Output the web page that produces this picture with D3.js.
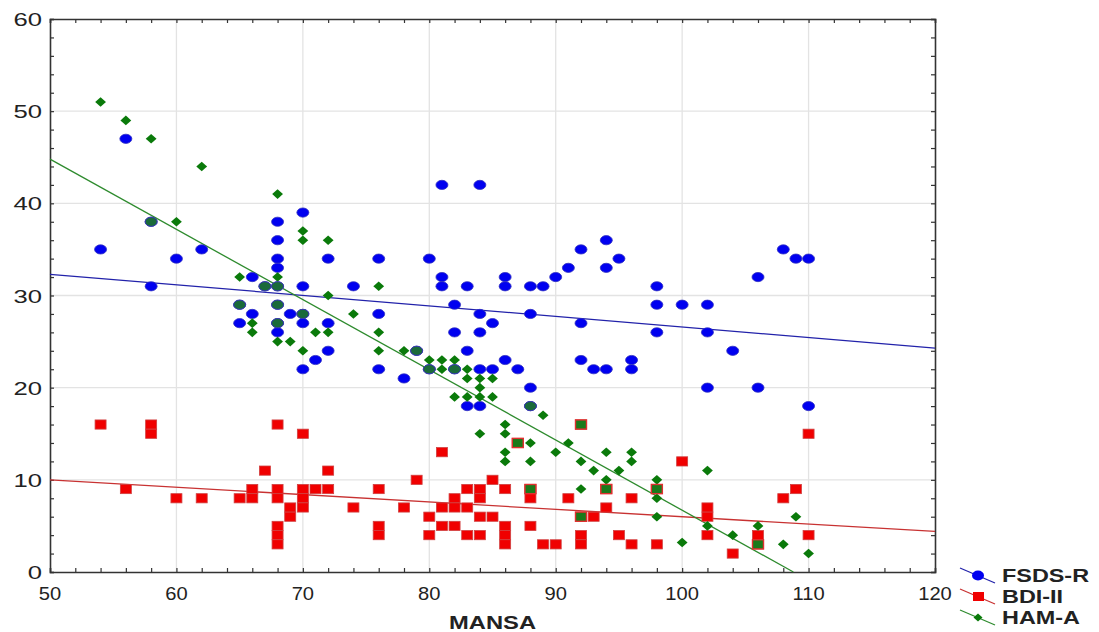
<html>
<head>
<script src="https://d3js.org/d3.v7.min.js"></script>
</head>
<body style="margin:0;background:#fff">
<svg id="chart" width="1099" height="632"></svg>
<style>
  text { font-family: "Liberation Sans", Arial, sans-serif; }
</style>
<script>
// data: [MANSA, score]
const fsds = [[56,47],[58,38],[70,39],[68,38],[54,35],[62,35],[68,36],[60,34],[68,34],[72,34],[68,33],[66,32],[58,31],[67,31],[68,31],[70,31],
  [65,29],[68,29],[66,28],[69,28],[70,28],[65,27],[68,27],[70,27],[72,27],[68,26],
  [81,42],[84,42],[76,34],[80,34],[74,31],[81,32],[81,31],[83,31],[86,32],[86,31],[88,31],[89,31],[90,32],[91,33],[92,35],[94,36],[94,33],[95,34],
  [82,29],[84,28],[88,28],[85,27],[92,27],[76,28],[82,26],[84,26],[72,24],[79,24],[83,24],[71,23],[86,23],[92,23],[70,22],[76,22],[80,22],[82,22],
  [84,22],[85,22],[87,22],[93,22],[78,21],[88,20],[83,18],[84,18],[88,18],
  [108,35],[109,34],[110,34],[106,32],[98,31],[98,29],[100,29],[102,29],[98,26],[102,26],[104,24],[96,23],[94,22],[96,22],[102,20],[106,20],[110,18]];

const bdi = [[54,16],[58,16],[58,15],[68,16],[70,15],[56,9],[67,11],[72,11],[60,8],[62,8],[65,8],[66,9],[66,8],[68,9],[68,8],[69,7],[69,6],
  [68,5],[68,4],[68,3],[70,9],[70,8],[70,7],[71,9],[72,9],
  [81,13],[79,10],[85,10],[76,9],[83,9],[84,9],[86,9],[88,9],[74,7],[78,7],[82,8],[84,8],[88,8],[91,8],[81,7],[82,7],[83,7],[80,6],[84,6],[85,6],
  [92,6],[93,6],[76,5],[76,4],[81,5],[82,5],[86,5],[88,5],[80,4],[83,4],[84,4],[86,4],[86,3],[89,3],[90,3],[92,4],[92,3],
  [92,16],[87,14],[110,15],[100,12],[94,9],[98,9],[109,9],[96,8],[108,8],[94,7],[102,7],[102,6],[95,4],[102,4],[106,4],[110,4],[96,3],[98,3],[106,3],[104,2]];

const ham = [[54,51],[56,49],[58,47],[62,44],[68,41],[58,38],[60,38],[70,37],[70,36],[72,36],[65,32],[68,32],[67,31],[68,31],[72,30],[65,29],
  [68,29],[70,28],[66,27],[68,27],[66,26],[71,26],[72,26],[68,25],[69,25],
  [76,31],[74,28],[76,26],[70,24],[76,24],[78,24],[79,24],[80,23],[81,23],[82,23],[80,22],[81,22],[82,22],[83,22],[83,21],[84,21],[85,21],
  [84,20],[82,19],[83,19],[84,19],[85,19],[88,18],[89,17],
  [86,16],[92,16],[84,15],[86,15],[87,14],[88,14],[91,14],[86,13],[90,13],[86,12],[88,12],[92,12],[93,11],[88,9],[92,9],[92,6],
  [94,13],[96,13],[96,12],[95,11],[102,11],[94,10],[98,10],[94,9],[98,9],[98,8],[98,6],[109,6],[102,5],[106,5],[104,4],[100,3.2],[106,3],[108,3],[110,2]];

// fitted lines, end points
const fitFsds = [[50,32.3],[120,24.3]];
const fitBdi = [[50,10.0],[120,4.4]];
const fitHam = [[50,44.8],[108.8,0]];

const xTicks = [50,60,70,80,90,100,110,120];
const yTicks = [0,10,20,30,40,50,60];
const legendNames = ['FSDS-R','BDI-II','HAM-A'];

const svg = d3.select('#chart');
const margin = {top:19, right:164, bottom:60, left:50};
const W = 1099 - margin.left - margin.right;
const H = 632 - margin.top - margin.bottom;

const x = d3.scaleLinear().domain([50,120]).range([0,W]);
const y = d3.scaleLinear().domain([0,60]).range([H,0]);

const g = svg.append('g').attr('transform',`translate(${margin.left},${margin.top})`);

// grid
g.selectAll('line.gx').data(xTicks.slice(1,-1)).join('line').attr('class','gx')
  .attr('x1',d=>x(d)).attr('x2',d=>x(d)).attr('y1',0).attr('y2',H)
  .attr('stroke','#e3e3e3').attr('stroke-width',1.3);
g.selectAll('line.gy').data(yTicks.slice(1,-1)).join('line').attr('class','gy')
  .attr('y1',d=>y(d)).attr('y2',d=>y(d)).attr('x1',0).attr('x2',W)
  .attr('stroke','#e3e3e3').attr('stroke-width',1.3);

// axes with inward ticks
const minorX = d3.range(50,121,2), minorY = d3.range(0,61,2);
const axB = g.append('g').attr('transform',`translate(0,${H})`)
  .call(d3.axisBottom(x).tickValues(minorX).tickSize(-4).tickFormat(''));
const axT = g.append('g').call(d3.axisTop(x).tickValues(minorX).tickSize(-4).tickFormat(''));
const axL = g.append('g').call(d3.axisLeft(y).tickValues(minorY).tickSize(-4).tickFormat(''));
const axR = g.append('g').attr('transform',`translate(${W},0)`)
  .call(d3.axisRight(y).tickValues(minorY).tickSize(-4).tickFormat(''));
[axB,axT,axL,axR].forEach(a=>{
  a.select('path.domain').attr('stroke','#333').attr('stroke-width',1.6);
  a.selectAll('line').attr('stroke','#333').attr('stroke-width',1.2);
});

// tick labels (the source picture is stretched sideways, so the text is too)
g.selectAll('text.xl').data(xTicks).join('text').attr('class','xl')
  .attr('transform',d=>`translate(${x(d)},${H+28}) scale(1.12,1)`).attr('text-anchor','middle')
  .attr('font-size','18px').attr('fill','#222').text(d=>d);
g.selectAll('text.yl').data(yTicks).join('text').attr('class','yl')
  .attr('transform',d=>`translate(-8,${y(d)+7}) scale(1.35,1)`).attr('text-anchor','end')
  .attr('font-size','19px').attr('fill','#222').text(d=>d);

svg.append('text').attr('transform',`translate(${margin.left+x(85)},629) scale(1.32,1)`)
  .attr('text-anchor','middle').attr('font-size','18px').attr('font-weight','bold')
  .attr('fill','#222').text('MANSA');

// fit lines
const line = d3.line().x(d=>x(d[0])).y(d=>y(d[1]));
g.append('path').datum(fitFsds).attr('d',line).attr('stroke','#2222aa').attr('stroke-width',1.3).attr('fill','none');
g.append('path').datum(fitBdi).attr('d',line).attr('stroke','#c83232').attr('stroke-width',1.3).attr('fill','none');
g.append('path').datum(fitHam).attr('d',line).attr('stroke','#2e8b2e').attr('stroke-width',1.3).attr('fill','none');

// markers
const key = d=>d[0]+'_'+d[1];
const blueSet = new Set(fsds.map(key)), redSet = new Set(bdi.map(key));

g.selectAll('ellipse.fsds').data(fsds).join('ellipse').attr('class','fsds')
  .attr('cx',d=>x(d[0])).attr('cy',d=>y(d[1])).attr('rx',6).attr('ry',4.6)
  .attr('fill','#0000f0').attr('stroke','#3030c0').attr('stroke-width',0.8);

g.selectAll('rect.bdi').data(bdi).join('rect').attr('class','bdi')
  .attr('x',d=>x(d[0])-5.5).attr('y',d=>y(d[1])-4.6).attr('width',11).attr('height',9.2)
  .attr('fill','#f00000').attr('stroke','#d04040').attr('stroke-width',0.8);

const hamFree = ham.filter(d=>!blueSet.has(key(d)) && !redSet.has(key(d)));
const hamOnBlue = ham.filter(d=>blueSet.has(key(d)));
const hamOnRed = ham.filter(d=>redSet.has(key(d)) && !blueSet.has(key(d)));

g.selectAll('path.ham').data(hamFree).join('path').attr('class','ham')
  .attr('transform',d=>`translate(${x(d[0])},${y(d[1])})`)
  .attr('d','M0,-4.8L5.4,0L0,4.8L-5.4,0Z').attr('fill','#0a7a0a');
g.selectAll('ellipse.hamb').data(hamOnBlue).join('ellipse').attr('class','hamb')
  .attr('cx',d=>x(d[0])).attr('cy',d=>y(d[1])).attr('rx',6).attr('ry',4.6)
  .attr('fill','#1a6a3a').attr('stroke','#3a3ab0').attr('stroke-width',1);
g.selectAll('rect.hamr').data(hamOnRed).join('rect').attr('class','hamr')
  .attr('x',d=>x(d[0])-5.5).attr('y',d=>y(d[1])-4.6).attr('width',11).attr('height',9.2)
  .attr('fill','#1a7a1a').attr('stroke','#e03030').attr('stroke-width',1.4);

// legend
const legColors = [['#2222aa','#0000f0'],['#c83232','#f00000'],['#2e8b2e','#0a7a0a']];
const leg = svg.append('g').attr('transform','translate(960,568)');
legendNames.forEach((n,i)=>{
  const r = leg.append('g').attr('transform',`translate(0,${i*21})`);
  r.append('line').attr('x1',0).attr('y1',0).attr('x2',35).attr('y2',15)
    .attr('stroke',legColors[i][0]).attr('stroke-width',1.3);
  if(i===0) r.append('ellipse').attr('cx',18).attr('cy',7.5).attr('rx',6).attr('ry',5).attr('fill',legColors[i][1]);
  if(i===1) r.append('rect').attr('x',13).attr('y',3).attr('width',11).attr('height',9).attr('fill',legColors[i][1]);
  if(i===2) r.append('path').attr('transform','translate(18,7.5)').attr('d','M0,-4L4.5,0L0,4L-4.5,0Z').attr('fill',legColors[i][1]);
  r.append('text').attr('transform','translate(42,14) scale(1.3,1)').attr('font-size','18px').attr('font-weight','bold')
    .attr('fill','#222').text(n);
});
</script>
</body>
</html>
